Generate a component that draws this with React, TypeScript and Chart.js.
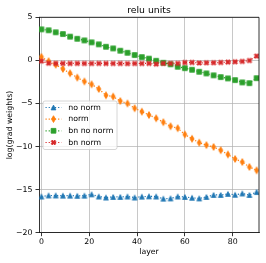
import React, { useEffect, useRef } from "react";
import { Chart, registerables } from "chart.js";
Chart.register(...registerables);

const layers = [0, 3, 6, 9, 12, 15, 18, 21, 24, 27, 30, 33, 36, 39, 42, 45, 48, 51, 54, 57, 60, 63, 66, 69, 72, 75, 78, 81, 84, 87, 90];
const noNorm = [-15.8, -15.68, -15.68, -15.7, -15.7, -15.72, -15.7, -15.55, -15.8, -15.92, -15.85, -15.85, -15.8, -15.92, -15.82, -15.78, -15.8, -16.05, -16.02, -15.8, -15.85, -15.95, -16.02, -15.85, -15.62, -15.62, -15.5, -15.6, -15.45, -15.62, -15.28];
const norm = [0.4, -0.1, -0.5, -1.0, -1.5, -2.0, -2.45, -2.78, -3.32, -4.05, -4.2, -4.72, -5.0, -5.56, -5.95, -6.34, -6.72, -7.18, -7.65, -7.87, -8.6, -9.1, -9.55, -9.83, -10.05, -10.43, -10.92, -11.44, -11.8, -12.37, -12.76];
const bnNoNorm = [3.6, 3.49, 3.26, 3.06, 2.75, 2.51, 2.32, 2.09, 1.86, 1.58, 1.39, 1.12, 0.88, 0.62, 0.38, 0.2, -0.05, -0.28, -0.45, -0.74, -0.9, -1.09, -1.32, -1.51, -1.74, -1.94, -2.09, -2.29, -2.56, -2.64, -2.06];
const bnNorm = [-0.08, -0.33, -0.35, -0.35, -0.36, -0.35, -0.36, -0.36, -0.35, -0.36, -0.36, -0.36, -0.37, -0.36, -0.36, -0.35, -0.43, -0.35, -0.36, -0.35, -0.25, -0.24, -0.3, -0.28, -0.27, -0.24, -0.2, -0.16, -0.12, -0.02, 0.5];

const seriesNames = ["no norm", "norm", "bn no norm", "bn norm"];
const seriesValues = [noNorm, norm, bnNoNorm, bnNorm];
const colors = ["#1f77b4", "#ff7f0e", "#2ca02c", "#d62728"];
const markerKinds = ["tri", "thin", "sq", "X"];
const xTicks = [0, 20, 40, 60, 80];
const titleText = "relu units";
const xLabel = "layer";
const yLabel = "log(grad weights)";

const FONT = "'DejaVu Sans', sans-serif";
const MS = 4.8;

function drawMarker(ctx: CanvasRenderingContext2D, kind: string, cx: number, cy: number, color: string) {
  ctx.save();
  ctx.fillStyle = color;
  ctx.strokeStyle = color;
  ctx.lineWidth = 0.8;
  ctx.lineJoin = "miter";
  ctx.setLineDash([]);
  ctx.beginPath();
  const h = MS / 2;
  if (kind === "tri") {
    ctx.moveTo(cx, cy - h);
    ctx.lineTo(cx - h, cy + h);
    ctx.lineTo(cx + h, cy + h);
    ctx.closePath();
  } else if (kind === "thin") {
    const dy = MS * 0.707;
    const dx = dy * 0.6;
    ctx.moveTo(cx, cy - dy);
    ctx.lineTo(cx + dx, cy);
    ctx.lineTo(cx, cy + dy);
    ctx.lineTo(cx - dx, cy);
    ctx.closePath();
  } else if (kind === "sq") {
    ctx.rect(cx - h, cy - h, MS, MS);
  } else {
    const pts = [[-1, -2], [0, -1], [1, -2], [2, -1], [1, 0], [2, 1], [1, 2], [0, 1], [-1, 2], [-2, 1], [-1, 0], [-2, -1]];
    pts.forEach((p, i) => {
      const x = cx + (p[0] / 4) * MS;
      const y = cy + (p[1] / 4) * MS;
      if (i === 0) ctx.moveTo(x, y);
      else ctx.lineTo(x, y);
    });
    ctx.closePath();
  }
  ctx.fill();
  ctx.stroke();
  ctx.restore();
}

function makeMarker(kind: string, color: string) {
  const c = document.createElement("canvas");
  c.width = 10;
  c.height = 10;
  const ctx = c.getContext("2d")!;
  drawMarker(ctx, kind, 5, 5, color);
  return c;
}

const decor = {
  id: "decor",
  afterDraw(chart: any) {
    const { ctx, chartArea: a } = chart;
    ctx.save();
    ctx.strokeStyle = "#000";
    ctx.lineWidth = 0.8;
    ctx.beginPath();
    ctx.moveTo(a.left, a.top);
    ctx.lineTo(a.right, a.top);
    ctx.lineTo(a.right, a.bottom);
    ctx.stroke();

    ctx.fillStyle = "#000";
    ctx.textAlign = "center";
    ctx.textBaseline = "alphabetic";
    ctx.font = `9.3px ${FONT}`;
    ctx.fillText(titleText, (a.left + a.right) / 2, 13.3);
    ctx.font = `7.8px ${FONT}`;
    ctx.fillText(xLabel, (a.left + a.right) / 2, 254);
    ctx.save();
    ctx.translate(12, (a.top + a.bottom) / 2);
    ctx.rotate(-Math.PI / 2);
    ctx.fillText(yLabel, 0, 0);
    ctx.restore();

    // legend
    const lx = 43, ly = 101, lw = 74, lh = 48.5, r = 2;
    ctx.beginPath();
    ctx.moveTo(lx + r, ly);
    ctx.lineTo(lx + lw - r, ly);
    ctx.quadraticCurveTo(lx + lw, ly, lx + lw, ly + r);
    ctx.lineTo(lx + lw, ly + lh - r);
    ctx.quadraticCurveTo(lx + lw, ly + lh, lx + lw - r, ly + lh);
    ctx.lineTo(lx + r, ly + lh);
    ctx.quadraticCurveTo(lx, ly + lh, lx, ly + lh - r);
    ctx.lineTo(lx, ly + r);
    ctx.quadraticCurveTo(lx, ly, lx + r, ly);
    ctx.closePath();
    ctx.fillStyle = "rgba(255,255,255,0.8)";
    ctx.fill();
    ctx.strokeStyle = "#cccccc";
    ctx.lineWidth = 0.8;
    ctx.stroke();

    const rows = [107.5, 119.1, 130.8, 142.5];
    ctx.textAlign = "left";
    ctx.textBaseline = "middle";
    ctx.font = `7.8px ${FONT}`;
    seriesNames.forEach((name, i) => {
      const y = rows[i];
      ctx.strokeStyle = colors[i];
      ctx.lineWidth = 1.2;
      ctx.setLineDash([1.2, 1.95]);
      ctx.lineCap = "butt";
      ctx.beginPath();
      ctx.moveTo(45.5, y);
      ctx.lineTo(61.5, y);
      ctx.stroke();
      ctx.setLineDash([]);
      drawMarker(ctx, markerKinds[i], 53.5, y, colors[i]);
      ctx.fillStyle = "#000";
      ctx.fillText(name, 68.3, y + 0.3);
    });
    ctx.restore();
  },
};

export default function App() {
  const ref = useRef<HTMLCanvasElement>(null);
  useEffect(() => {
    document.body.style.margin = "0";
    const datasets = seriesNames.map((name, i) => ({
      label: name,
      data: layers.map((x, j) => ({ x, y: seriesValues[i][j] })),
      borderColor: colors[i],
      backgroundColor: colors[i],
      borderWidth: 1.2,
      borderDash: [1.2, 1.95],
      borderCapStyle: "butt" as const,
      pointStyle: makeMarker(markerKinds[i], colors[i]),
      pointRadius: 3,
      pointHoverRadius: 3,
      tension: 0,
      order: 3 - i,
    }));
    const chart = new Chart(ref.current!, {
      type: "line",
      data: { datasets },
      plugins: [decor],
      options: {
        animation: false,
        responsive: false,
        devicePixelRatio: 1,
        layout: { padding: { top: 17.3, right: 7, bottom: 0, left: 0 } },
        plugins: { legend: { display: false }, tooltip: { enabled: false }, title: { display: false } },
        scales: {
          x: {
            type: "linear",
            min: -1,
            max: 91,
            afterBuildTicks: (s: any) => {
              s.ticks = xTicks.map((v) => ({ value: v }));
            },
            afterFit: (s: any) => {
              s.height = 30.3;
            },
            grid: { color: "#b0b0b0", lineWidth: 0.7, tickLength: 3.5, tickColor: "#000", tickWidth: 0.8 },
            border: { display: true, color: "#000", width: 0.8 },
            ticks: { color: "#000", font: { family: FONT, size: 7.8 }, padding: 1.2, maxRotation: 0 },
          },
          y: {
            type: "linear",
            min: -20,
            max: 5,
            ticks: {
              stepSize: 5,
              color: "#000",
              font: { family: FONT, size: 7.8 },
              padding: 3,
              callback: (v: any) => String(v).replace("-", "\u2212"),
            },
            afterFit: (s: any) => {
              s.width = 39;
            },
            grid: { color: "#b0b0b0", lineWidth: 0.7, tickLength: 3.5, tickColor: "#000", tickWidth: 0.8 },
            border: { display: true, color: "#000", width: 0.8 },
          },
        },
      },
    } as any);
    return () => chart.destroy();
  }, []);
  return (
    <div style={{ width: 266, height: 263 }}>
      <canvas ref={ref} width={266} height={263} style={{ display: "block" }} />
    </div>
  );
}
